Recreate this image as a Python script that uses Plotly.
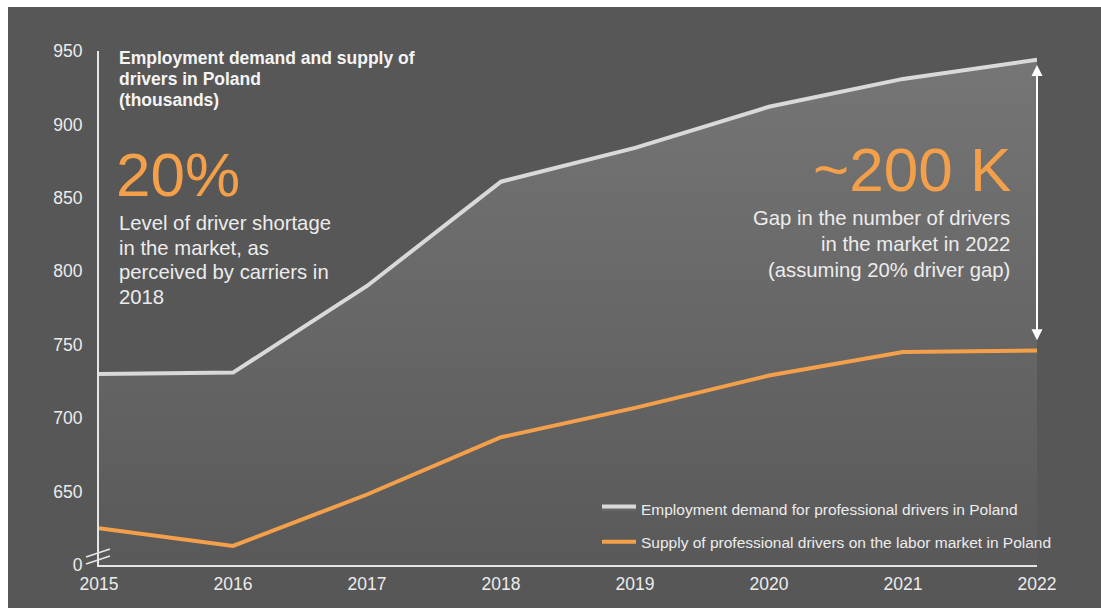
import plotly.graph_objects as go

# Data (thousands of drivers)
years = [2015, 2016, 2017, 2018, 2019, 2020, 2021, 2022]
demand = [730, 731, 790, 861, 884, 912, 931, 944]
supply = [625, 613, 648, 687, 707, 729, 745, 746]

y_tickvals = [600, 650, 700, 750, 800, 850, 900, 950]
y_ticktext = ["0", "650", "700", "750", "800", "850", "900", "950"]

demand_name = "Employment demand for professional drivers in Poland"
supply_name = "Supply of professional drivers on the labor market in Poland"

BG = "#575757"
ORANGE = "#F4A04A"
LIGHT = "#d9d9d9"
TEXT = "#ececec"
FONT = "Liberation Sans, Arial, sans-serif"

W, H = 1101, 608
ML, MR, MT, MB = 99, 64, 51, 43
PW, PH = W - ML - MR, H - MT - MB


def px(x):
    return (x - ML) / PW


def py(y):
    return (H - MB - y) / PH


fig = go.Figure()

# Demand line with a soft vertical gradient fill beneath it
fig.add_trace(go.Scatter(
    x=years, y=demand, mode="lines", name=demand_name,
    line=dict(color=LIGHT, width=4),
    fill="tozeroy",
    fillgradient=dict(type="vertical", start=600, stop=950,
                      colorscale=[[0, "#595959"], [1, "#767676"]]),
    legendgroup="a",
))
fig.add_trace(go.Scatter(
    x=years, y=supply, mode="lines", name=supply_name,
    line=dict(color=ORANGE, width=4),
    legendgroup="b",
))

annotations = []

# Heading
for i, line in enumerate(["Employment demand and supply of",
                          "drivers in Poland", "(thousands)"]):
    annotations.append(dict(
        text=line, x=px(117), y=py(58 + 21 * i), xref="paper", yref="paper",
        xanchor="left", yanchor="middle", showarrow=False,
        font=dict(family=FONT, size=17.5, color="#f4f4f4", weight="bold"),
    ))

# Left call-out
annotations.append(dict(
    text="20%", x=px(114), y=py(174), xref="paper", yref="paper",
    xanchor="left", yanchor="middle", showarrow=False,
    font=dict(family=FONT, size=62, color=ORANGE),
))
for i, line in enumerate(["Level of driver shortage", "in the market, as",
                          "perceived by carriers in", "2018"]):
    annotations.append(dict(
        text=line, x=px(117), y=py(223 + 24.6 * i), xref="paper", yref="paper",
        xanchor="left", yanchor="middle", showarrow=False,
        font=dict(family=FONT, size=20.3, color=TEXT),
    ))

# Right call-out
annotations.append(dict(
    text="~200 K", x=px(1013), y=py(170), xref="paper", yref="paper",
    xanchor="right", yanchor="middle", showarrow=False,
    font=dict(family=FONT, size=62, color=ORANGE),
))
for i, line in enumerate(["Gap in the number of drivers",
                          "in the market in 2022",
                          "(assuming 20% driver gap)"]):
    annotations.append(dict(
        text=line, x=px(1012), y=py(218 + 26 * i), xref="paper", yref="paper",
        xanchor="right", yanchor="middle", showarrow=False,
        font=dict(family=FONT, size=20.3, color=TEXT),
    ))

# Double-headed gap arrow at 2022
annotations.append(dict(
    text="", x=years[-1], y=940.5, ax=years[-1], ay=752,
    xref="x", yref="y", axref="x", ayref="y",
    showarrow=True, arrowside="end+start",
    arrowhead=2, startarrowhead=2, arrowsize=1.1, startarrowsize=1.1,
    arrowwidth=2, arrowcolor="#ffffff", standoff=0, startstandoff=0,
))

shapes = [
    # axis break marks
    dict(type="line", xref="paper", yref="paper",
         x0=px(86), y0=py(557), x1=px(110), y1=py(549),
         line=dict(color="#e6e6e6", width=1.5)),
    dict(type="line", xref="paper", yref="paper",
         x0=px(86), y0=py(564), x1=px(110), y1=py(556),
         line=dict(color="#e6e6e6", width=1.5)),
    # page edges
    dict(type="rect", xref="paper", yref="paper",
         x0=px(0), x1=px(W), y0=py(7), y1=py(0),
         fillcolor="#ffffff", line=dict(width=0), layer="above"),
    dict(type="rect", xref="paper", yref="paper",
         x0=px(0), x1=px(8), y0=py(H), y1=py(0),
         fillcolor="#ffffff", line=dict(width=0), layer="above"),
]

fig.update_layout(
    width=W, height=H,
    margin=dict(l=ML, r=MR, t=MT, b=MB),
    paper_bgcolor=BG, plot_bgcolor=BG,
    font=dict(family=FONT, color=TEXT),
    annotations=annotations,
    shapes=shapes,
    legend=dict(
        x=px(597), y=py(492), xanchor="left", yanchor="top",
        bgcolor="rgba(0,0,0,0)", font=dict(size=15.5, color=TEXT),
        traceorder="grouped", tracegroupgap=10, itemwidth=34,
    ),
    xaxis=dict(
        range=[years[0], years[-1]], tickvals=years,
        showgrid=False, zeroline=False,
        showline=True, linecolor="#e6e6e6", linewidth=2,
        ticks="", ticklabelstandoff=2,
        tickfont=dict(size=17.5, color=TEXT),
    ),
    yaxis=dict(
        range=[600, 950], tickvals=y_tickvals, ticktext=y_ticktext,
        showgrid=False, zeroline=False,
        showline=True, linecolor="#e6e6e6", linewidth=2,
        ticks="", ticklabelstandoff=11,
        tickfont=dict(size=17.5, color=TEXT),
    ),
)

fig.write_html("out.html")
